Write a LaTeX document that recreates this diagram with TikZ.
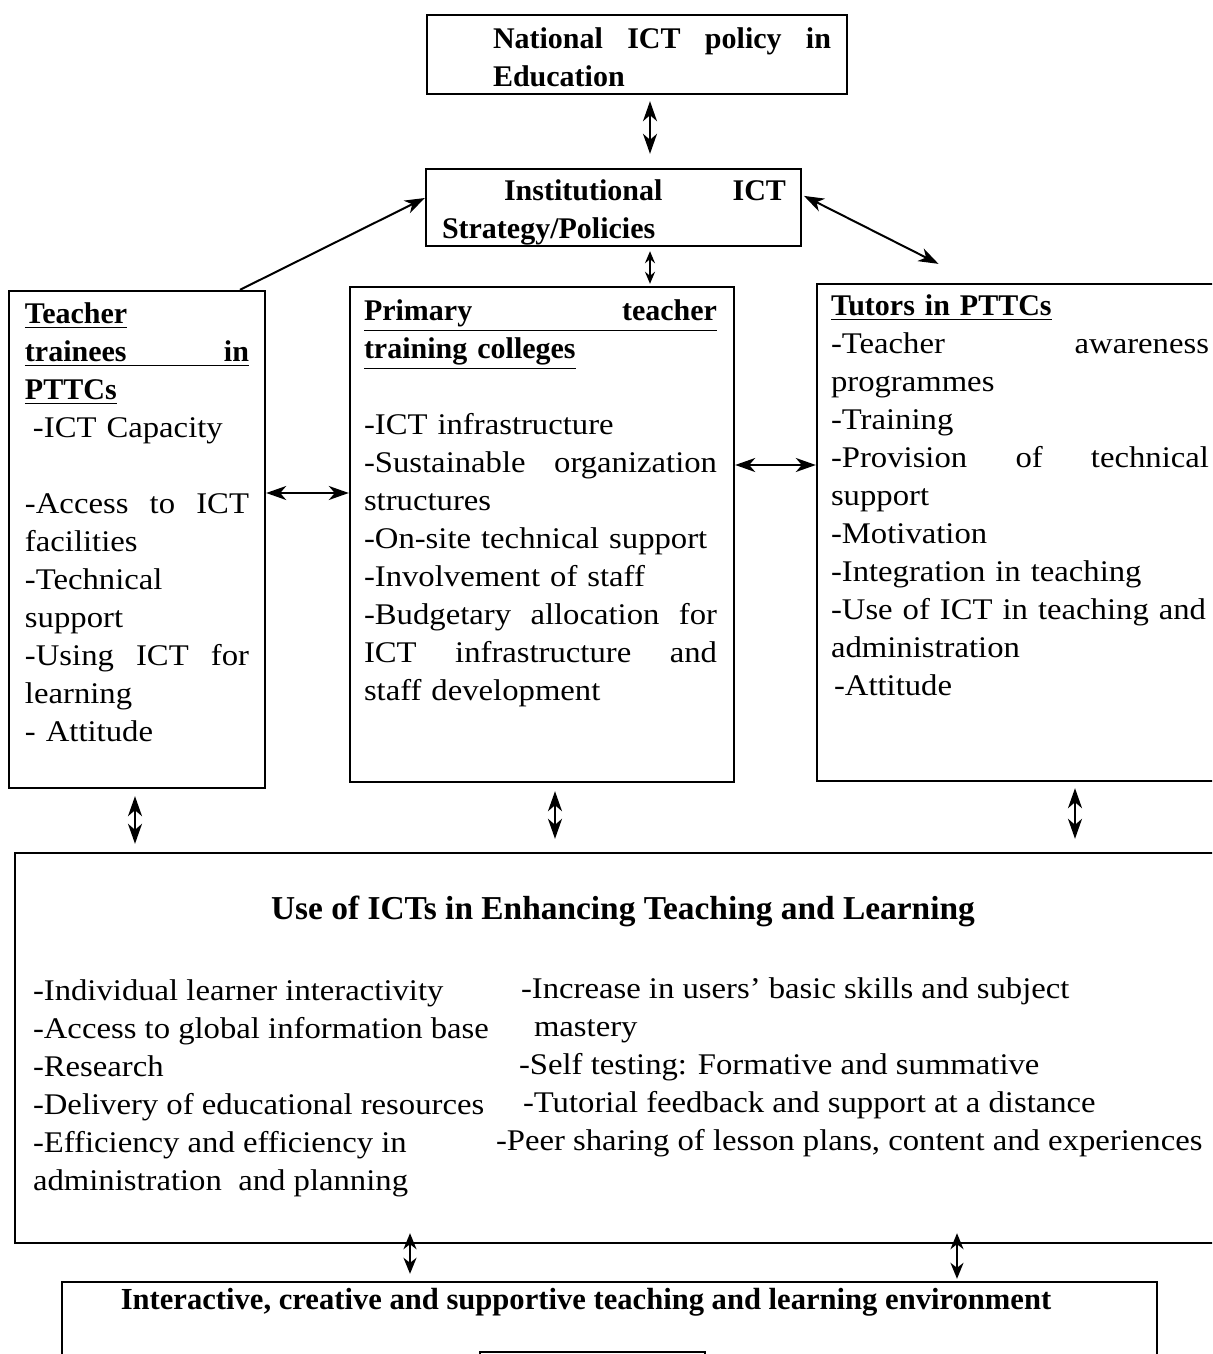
\documentclass[tikz,border=0pt]{standalone}
\usepackage{fontspec}
\setmainfont{Liberation Serif}[UprightFeatures={FakeStretch=1.09}]
\usetikzlibrary{arrows.meta,positioning,fit}

\begin{document}
\begin{tikzpicture}[x=0.5pt, y=-0.5pt, >={Stealth[length=10pt,width=7pt,inset=3pt]}, line width=1pt]
	\tikzstyle{frame}=[draw=black, line width=1.2pt, inner sep=0pt]
	\tikzstyle{txt}=[anchor=north west, inner sep=0pt, align=left, font=\fontsize{15}{19}\selectfont]
	\tikzstyle{head}=[inner sep=0pt, font=\fontsize{15}{19}\selectfont\bfseries]
	\tikzstyle{short}=[{Stealth[length=8pt,width=6.5pt,inset=2.5pt]}-{Stealth[length=8pt,width=6.5pt,inset=2.5pt]}]
	\useasboundingbox (0,0) rectangle (1212,1354);
	\clip (0,0) rectangle (1212,1354);

	% boxes
	\node[frame, fit={(427,15) (847,94)}] (national) {};
	\node[frame, fit={(426,169) (801,246)}] (institutional) {};
	\node[frame, fit={(9,291) (265,788)}] (teacher) {};
	\node[frame, fit={(350,287) (734,782)}] (primary) {};
	\node[frame, fit={(817,284) (1240,781)}] (tutors) {};
	\node[frame, fit={(15,853) (1240,1243)}] (use) {};
	\node[frame, fit={(62,1282) (1157,1380)}] (envbox) {};
	\node[frame, fit={(480,1352) (705,1400)}] (inner) {};

	% texts
	\node[txt, text width=169pt, font=\fontsize{15}{19}\selectfont\bfseries] (nationaltxt) at (492,27)
		{National\hfill ICT\hfill policy\hfill in\\ Education};
	\node[txt, text width=172pt, font=\fontsize{15}{19}\selectfont\bfseries] (institutionaltxt) at (441,179)
		{\hspace*{31pt}Institutional\hfill ICT\\ Strategy/Policies};
	\node[txt, text width=112pt] (teachertxt) at (24,302) {%
		\textbf{\underline{Teacher}}\\
		\underline{\hbox to 112pt{\textbf{trainees}\hfill\textbf{in}}}\\
		\textbf{\underline{PTTCs}}\\
		\hspace*{4pt}-ICT Capacity\\[19pt]
		-Access\hfill to\hfill ICT\\
		facilities\\
		-Technical\\
		support\\
		-Using\hfill ICT\hfill for\\
		learning\\
		- Attitude};
	\node[txt, text width=176.5pt] (primarytxt) at (363,299) {%
		\underline{\hbox to 176.5pt{\textbf{Primary}\hfill\textbf{teacher}}}\\
		\textbf{\underline{training colleges}}\\[19pt]
		-ICT infrastructure\\
		-Sustainable\hfill organization\\
		structures\\
		-On-site technical support\\
		-Involvement of staff\\
		-Budgetary\hfill allocation\hfill for\\
		ICT\hfill infrastructure\hfill and\\
		staff development};
	\node[txt, text width=189pt] (tutorstxt) at (830,294) {%
		\textbf{\underline{Tutors in PTTCs}}\\
		-Teacher\hfill awareness\\
		programmes\\
		-Training\\
		-Provision\hfill of\hfill technical\\
		support\\
		-Motivation\\
		-Integration in teaching\\
		\mbox{-Use of ICT in teaching and}\\
		administration\\
		\hspace*{1.5pt}-Attitude};
	\node[head, font=\fontsize{16.7}{19}\selectfont\bfseries] (usetitle) at (623,911) {Use of ICTs in Enhancing Teaching and Learning};
	\node[txt] (useleft) at (32,979) {%
		-Individual learner interactivity\\
		-Access to global information base\\
		-Research\\
		-Delivery of educational resources\\
		-Efficiency and efficiency in\\
		administration\ \ and planning};
	\node[txt] (useright) at (495,977) {%
		\hspace*{12.5pt}-Increase in users’ basic skills and subject\\
		\hspace*{19pt}mastery\\
		\hspace*{11.5pt}-Self testing: Formative and summative\\
		\hspace*{13.5pt}-Tutorial feedback and support at a distance\\
		-Peer sharing of lesson plans, content and experiences};
	\node[head, font=\fontsize{15.3}{19}\selectfont\bfseries] (envtitle) at (586,1302) {Interactive, creative and supportive teaching and learning environment};

	% connectors
	\draw[<->, shorten <=3pt, shorten >=7pt] (national.south -| 650,0) -- (institutional.north -| 650,0);
	\draw[->] (teacher.north -| 240,0) -- (institutional.west |- 0,198);
	\draw[<->, shorten <=1pt, shorten >=21pt] (institutional.east |- 0,195) -- (tutors.north -| 976,0);
	\draw[{Stealth[length=6pt,width=5pt,inset=2pt]}-{Stealth[length=6pt,width=5pt,inset=2pt]}, shorten <=2pt, shorten >=1pt]
		(institutional.south -| 650,0) -- (primary.north -| 650,0);
	\draw[<->] (teacher.east |- 0,493) -- (primary.west |- 0,493);
	\draw[<->] (primary.east |- 0,465) -- (tutors.west |- 0,465);
	\draw[<->, shorten <=3.5pt, shorten >=4pt] (teacher.south -| 135,0) -- (use.north -| 135,0);
	\draw[<->, shorten <=4pt, shorten >=6.5pt] (primary.south -| 555,0) -- (use.north -| 555,0);
	\draw[<->, shorten <=3pt, shorten >=6.5pt] (tutors.south -| 1075,0) -- (use.north -| 1075,0);
	\draw[short, shorten <=-5.5pt, shorten >=3.5pt] (use.south -| 410,0) -- (envbox.north -| 410,0);
	\draw[short, shorten <=-5.5pt, shorten >=1pt] (use.south -| 957,0) -- (envbox.north -| 957,0);
\end{tikzpicture}
\end{document}
